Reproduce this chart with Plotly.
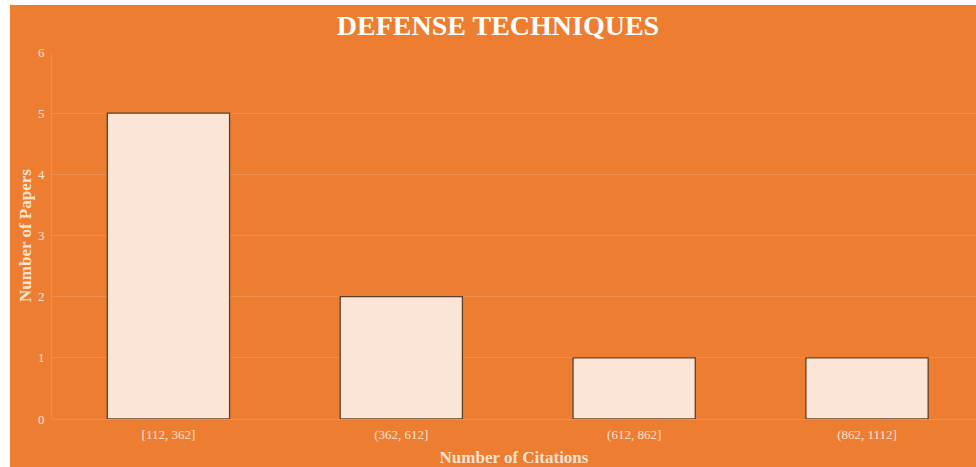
import plotly.graph_objects as go

# Citation-count bins and how many papers fall into each
citation_bins = ["[112, 362]", "(362, 612]", "(612, 862]", "(862, 1112]"]
paper_counts = [5, 2, 1, 1]
y_ticks = [0, 1, 2, 3, 4, 5, 6]

ORANGE = "#EC7D31"
BAR_FILL = "#FAE5D6"
BAR_EDGE = "#5E4028"
GRID = "#EF8D4E"
TICK_TEXT = "#FBE3D2"
SERIF = "Liberation Serif, Times New Roman, serif"

W, H = 976, 467
M_L, M_R, M_T, M_B = 52, 0, 52, 48

fig = go.Figure(
    go.Bar(
        x=citation_bins,
        y=paper_counts,
        marker=dict(color=BAR_FILL, line=dict(color=BAR_EDGE, width=1.3)),
        hoverinfo="x+y",
    )
)

# orange card behind the chart, leaving a thin white strip top and left
plot_w = W - M_L - M_R
plot_h = H - M_T - M_B
fig.add_shape(
    type="rect", xref="paper", yref="paper", layer="below",
    x0=(10 - M_L) / plot_w, x1=1.05,
    y0=-(M_B + 10) / plot_h, y1=1 + (M_T - 5) / plot_h,
    fillcolor=ORANGE, line=dict(width=0),
)

fig.update_layout(
    width=W, height=H,
    margin=dict(l=M_L, r=M_R, t=M_T, b=M_B, pad=0),
    paper_bgcolor="white",
    plot_bgcolor="rgba(0,0,0,0)",
    bargap=0.475,
    showlegend=False,
    font=dict(family=SERIF, color=TICK_TEXT, size=13),
    title=dict(
        text="<b>DEFENSE TECHNIQUES</b>",
        x=498 / W, xref="container", xanchor="center",
        y=1 - 25 / H, yref="container", yanchor="middle",
        font=dict(family=SERIF, size=28, color="white"),
    ),
)

fig.update_xaxes(
    range=[-0.5, 3.468],
    showgrid=False, zeroline=False, showline=False,
    ticks="", ticklabelstandoff=6,
    tickfont=dict(family=SERIF, size=13, color=TICK_TEXT),
    title=dict(text="<b>Number of Citations</b>",
               font=dict(family=SERIF, size=17, color=TICK_TEXT), standoff=10),
)
fig.update_yaxes(
    range=[0, 6], tickvals=y_ticks,
    showgrid=True, gridcolor=GRID, gridwidth=1,
    zeroline=True, zerolinecolor=GRID, zerolinewidth=1,
    showline=True, linecolor=GRID, linewidth=1,
    ticks="", ticklabelstandoff=4,
    tickfont=dict(family=SERIF, size=13, color=TICK_TEXT),
    title=dict(text="<b>Number of Papers</b>",
               font=dict(family=SERIF, size=17, color=TICK_TEXT), standoff=1),
)

fig.write_html("out.html")
